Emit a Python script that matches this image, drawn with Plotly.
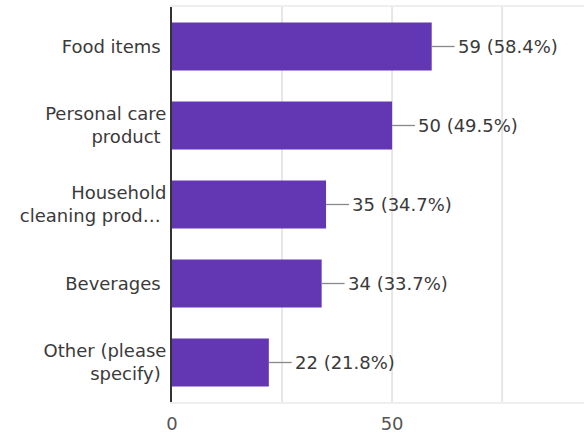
import plotly.graph_objects as go

categories = ["Food items", "Personal care<br>product", "Household<br>cleaning prod…", "Beverages", "Other (please<br>specify)"]
counts = [59, 50, 35, 34, 22]
percents = [58.4, 49.5, 34.7, 33.7, 21.8]
tick_vals = [0, 50]

font = "DejaVu Sans, Arial, sans-serif"
lead = 5.2

fig = go.Figure()
fig.add_trace(go.Bar(
    x=counts, y=categories, orientation="h",
    marker=dict(color="#6337b4", line=dict(width=0)),
    width=0.61, hoverinfo="skip",
))

lx, ly = [], []
for c, v in zip(categories, counts):
    lx += [v, v + lead, None]
    ly += [c, c, None]
fig.add_trace(go.Scatter(x=lx, y=ly, mode="lines", line=dict(color="#888888", width=1.3),
                         hoverinfo="skip"))

for c, v, p in zip(categories, counts, percents):
    fig.add_annotation(x=v + lead, y=c, text=f"{v} ({p}%)", showarrow=False,
                       xanchor="left", xshift=1, font=dict(size=18, color="#3a3a3a", family=font))

fig.update_layout(
    width=584, height=436,
    margin=dict(l=172, r=0, t=7, b=34),
    paper_bgcolor="white", plot_bgcolor="white",
    showlegend=False,
    bargap=0.39,
    font=dict(family=font, size=18, color="#3a3a3a"),
)
fig.update_xaxes(range=[0, 93.6], tickvals=tick_vals, ticktext=[str(t) for t in tick_vals],
                 showgrid=False, zeroline=False, showline=True, linecolor="#eeeeee", linewidth=2,
                 mirror=True, tickfont=dict(size=18, color="#555555"), ticks="outside",
                 ticklen=4, tickcolor="rgba(0,0,0,0)")
for g in [25, 50, 75]:
    fig.add_vline(x=g, line=dict(color="#e6e6e6", width=2), layer="below")
fig.update_yaxes(autorange="reversed", showgrid=False, showline=True, linecolor="#333333",
                 linewidth=2, ticks="", tickfont=dict(size=18, color="#3a3a3a"), ticksuffix=" ")

fig.write_html("out.html")
